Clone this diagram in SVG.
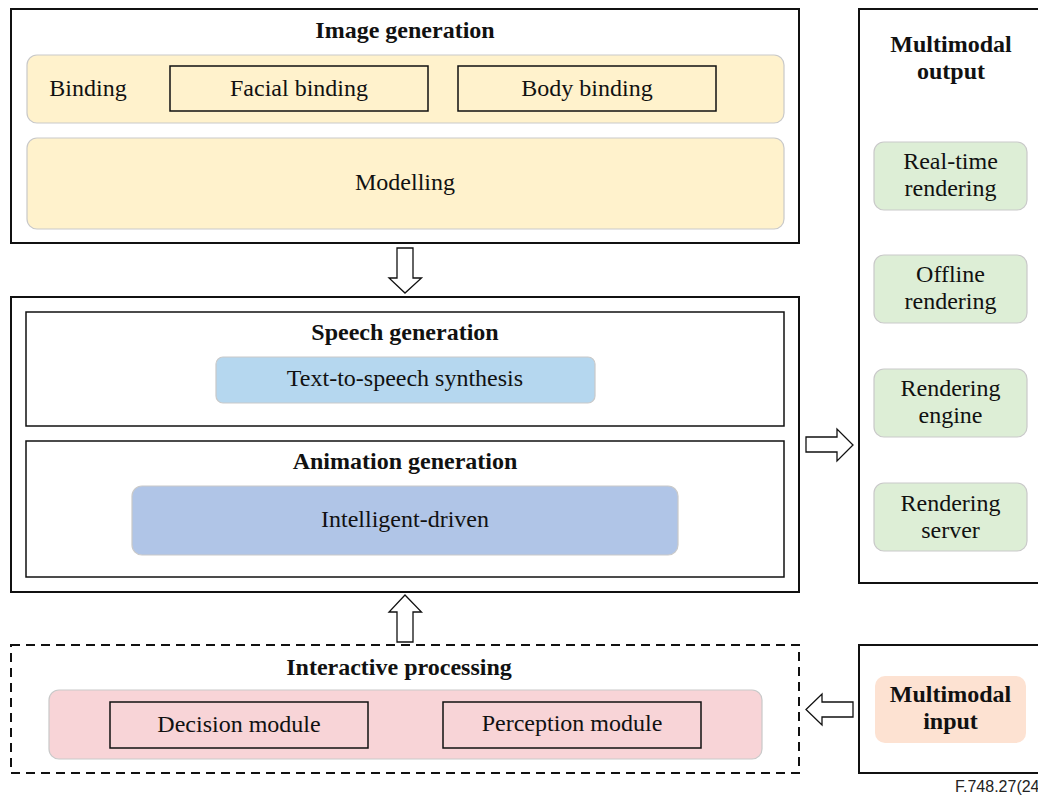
<svg xmlns="http://www.w3.org/2000/svg" width="1038" height="798" viewBox="0 0 1038 798">
<defs>
<style>
.t{font-family:"Liberation Serif","Times New Roman",serif;font-size:24px;fill:#111;text-anchor:middle}
.b{font-weight:bold}
.outer{fill:#fff;stroke:#111;stroke-width:2}
.inner{fill:none;stroke:#111;stroke-width:1.5}
.soft{stroke:#c9c9c9;stroke-width:1.2}
.arrow{fill:#fff;stroke:#111;stroke-width:1.3;stroke-linejoin:miter}
</style>
</defs>
<rect width="1038" height="798" fill="#fff"/>

<g id="image-generation">
<rect class="outer" x="11" y="9" width="788" height="234"/>
<text class="t b" x="405" y="38">Image generation</text>
<rect class="soft" x="27" y="55" width="757" height="68" rx="10" fill="#fff2cc"/>
<text class="t" x="88" y="96">Binding</text>
<rect class="inner" x="170" y="66" width="258" height="45"/>
<text class="t" x="299" y="96">Facial binding</text>
<rect class="inner" x="458" y="66" width="258" height="45"/>
<text class="t" x="587" y="96">Body binding</text>
<rect class="soft" x="27" y="138" width="757" height="91" rx="10" fill="#fff2cc"/>
<text class="t" x="405" y="190">Modelling</text>
</g>

<g id="generation">
<rect class="outer" x="11" y="297" width="788" height="295"/>
<g id="speech-generation">
<rect class="inner" x="26" y="312" width="758" height="114"/>
<text class="t b" x="405" y="340">Speech generation</text>
<rect class="soft" x="216" y="357" width="379" height="46" rx="7" fill="#b5d7ef"/>
<text class="t" x="405" y="386">Text-to-speech synthesis</text>
</g>
<g id="animation-generation">
<rect class="inner" x="26" y="441" width="758" height="136"/>
<text class="t b" x="405" y="469">Animation generation</text>
<rect class="soft" x="132" y="486" width="546" height="69" rx="10" fill="#b0c5e7"/>
<text class="t" x="405" y="527">Intelligent-driven</text>
</g>
</g>

<g id="interactive-processing">
<rect x="11" y="645" width="788" height="128" fill="#fff" stroke="#111" stroke-width="2" stroke-dasharray="9,6"/>
<text class="t b" x="399" y="675">Interactive processing</text>
<rect class="soft" x="49" y="690" width="713" height="69" rx="10" fill="#f8d4d7"/>
<rect class="inner" x="110" y="702" width="258" height="46"/>
<text class="t" x="239" y="732">Decision module</text>
<rect class="inner" x="443" y="702" width="258" height="46"/>
<text class="t" x="572" y="731">Perception module</text>
</g>

<g id="multimodal-output">
<rect class="outer" x="859" y="9" width="190" height="574"/>
<text class="t b" x="951" y="52">Multimodal</text>
<text class="t b" x="951" y="79">output</text>
<rect class="soft" x="874" y="142" width="153" height="68" rx="10" fill="#ddeed6"/>
<text class="t" x="950.5" y="169">Real-time</text>
<text class="t" x="950.5" y="196">rendering</text>
<rect class="soft" x="874" y="255" width="153" height="68" rx="10" fill="#ddeed6"/>
<text class="t" x="950.5" y="282">Offline</text>
<text class="t" x="950.5" y="309">rendering</text>
<rect class="soft" x="874" y="369" width="153" height="68" rx="10" fill="#ddeed6"/>
<text class="t" x="950.5" y="396">Rendering</text>
<text class="t" x="950.5" y="423">engine</text>
<rect class="soft" x="874" y="483" width="153" height="68" rx="10" fill="#ddeed6"/>
<text class="t" x="950.5" y="511">Rendering</text>
<text class="t" x="950.5" y="538">server</text>
</g>

<g id="multimodal-input">
<rect class="outer" x="859" y="645" width="190" height="128"/>
<rect x="875" y="676" width="151" height="67" rx="10" fill="#fde2d2"/>
<text class="t b" x="950.5" y="702">Multimodal</text>
<text class="t b" x="950.5" y="729">input</text>
</g>

<g id="connectors">
<path class="arrow" d="M397,248 H413 V278 H421.5 L405,293 L389,278 H397 Z"/>
<path class="arrow" d="M397,642 H413 V612 H421.5 L405,595 L389,612 H397 Z"/>
<path class="arrow" d="M806,437 H837 V429 L853,445 L837,461 V452 H806 Z"/>
<path class="arrow" d="M853,702 H822 V694 L806,709.5 L822,725 V717 H853 Z"/>
</g>

<text x="955" y="792" font-family="Liberation Sans, Arial, sans-serif" font-size="16" fill="#222">F.748.27(24</text>
</svg>
